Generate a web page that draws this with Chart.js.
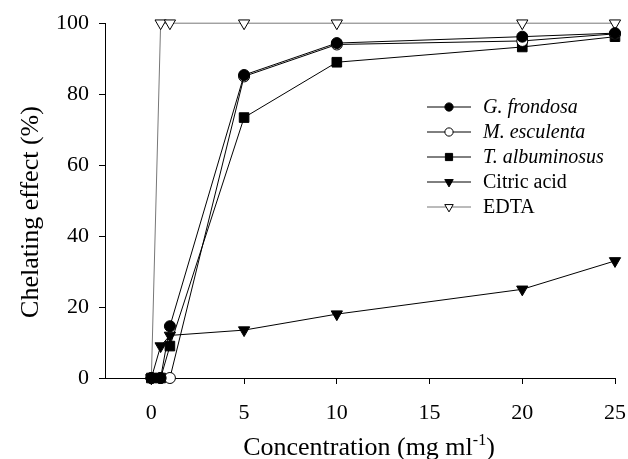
<!DOCTYPE html>
<html>
<head>
<meta charset="utf-8">
<script src="https://cdn.jsdelivr.net/npm/chart.js@4/dist/chart.umd.min.js"></script>
<style>
  html, body { margin: 0; padding: 0; background: #fff; }
  #wrap { width: 628px; height: 459px; }
</style>
</head>
<body>
<div id="wrap"><canvas id="myChart" width="628" height="459"></canvas></div>
<script>
// concentrations (mg/ml)
const concentrations = [0, 0.5, 1, 5, 10, 20, 25];
const seriesNames = ["G. frondosa", "M. esculenta", "T. albuminosus", "Citric acid", "EDTA"];
const frondosa = [0, 0, 14.6, 85.4, 94.4, 96.2, 97.2];
const esculenta = [0, 0, 0, 85.0, 94.0, 95.0, 97.0];
const albuminosus = [0, 0, 9, 73.4, 89.0, 93.3, 96.2];
const citric = [0, 9, 12, 13.5, 18.0, 25.0, 33.0];
const edta = [0, 100, 100, 100, 100, 100, 100];
const xTicks = [0, 5, 10, 15, 20, 25];
const yTicks = [0, 20, 40, 60, 80, 100];

const serif = "'Liberation Serif', 'Times New Roman', serif";

function pts(vals) {
  return concentrations.map((c, i) => ({ x: c, y: vals[i] }));
}

const styles = [
  { pointStyle: "circle", bg: "#000", radius: 5.5, rot: 0, line: "#000", italic: true },
  { pointStyle: "circle", bg: "#fff", radius: 5.5, rot: 0, line: "#000", italic: true },
  { pointStyle: "rect", bg: "#000", radius: 6.8, rot: 0, line: "#000", italic: true },
  { pointStyle: "triangle", bg: "#000", radius: 6.5, rot: 180, line: "#000", italic: false },
  { pointStyle: "triangle", bg: "#fff", radius: 6.5, rot: 180, line: "#777", italic: false },
];

const allSeries = [frondosa, esculenta, albuminosus, citric, edta];

const datasets = allSeries.map((vals, i) => ({
  label: seriesNames[i],
  data: pts(vals),
  borderColor: styles[i].line,
  borderWidth: 1,
  pointStyle: styles[i].pointStyle,
  pointRotation: styles[i].rot,
  pointRadius: styles[i].radius,
  pointBackgroundColor: styles[i].bg,
  pointBorderColor: "#000",
  pointBorderWidth: 1,
  tension: 0,
  clip: false,
}));

// legend inside the plot + axis titles
const legendPlugin = {
  id: "innerLegend",
  afterDraw(chart) {
    const ctx = chart.ctx;
    ctx.save();
    chart.data.datasets.forEach((ds, i) => {
      const y = 107 + i * 25;
      ctx.strokeStyle = ds.borderColor;
      ctx.lineWidth = 1;
      ctx.beginPath();
      ctx.moveTo(427, y);
      ctx.lineTo(471, y);
      ctx.stroke();
      ctx.fillStyle = ds.pointBackgroundColor;
      ctx.strokeStyle = "#000";
      Chart.helpers.drawPoint(ctx, {
        pointStyle: ds.pointStyle,
        rotation: ds.pointRotation,
        radius: ds.pointRadius * 0.75,
        borderWidth: 1,
      }, 449, y);
      ctx.fillStyle = "#000";
      ctx.font = (styles[i].italic ? "italic " : "") + "20px " + serif;
      ctx.textBaseline = "middle";
      ctx.textAlign = "left";
      ctx.fillText(ds.label, 483, y + 1);
    });

    // x title with superscript
    const main1 = "Concentration (mg ml";
    const sup = "-1";
    const main2 = ")";
    ctx.font = "26px " + serif;
    const w1 = ctx.measureText(main1).width;
    const w3 = ctx.measureText(main2).width;
    ctx.font = "16px " + serif;
    const w2 = ctx.measureText(sup).width;
    let x = 369 - (w1 + w2 + w3) / 2;
    const base = 455;
    ctx.textBaseline = "alphabetic";
    ctx.font = "26px " + serif;
    ctx.fillText(main1, x, base);
    x += w1;
    ctx.font = "16px " + serif;
    ctx.fillText(sup, x, base - 10);
    x += w2;
    ctx.font = "26px " + serif;
    ctx.fillText(main2, x, base);

    // y title
    ctx.translate(31, 212);
    ctx.rotate(-Math.PI / 2);
    ctx.font = "26px " + serif;
    ctx.textAlign = "center";
    ctx.textBaseline = "middle";
    ctx.fillText("Chelating effect (%)", 0, 0);
    ctx.restore();
  },
};

const ctx = document.getElementById("myChart").getContext("2d");
const chart = new Chart(ctx, {
  type: "line",
  data: { datasets },
  plugins: [legendPlugin],
  options: {
    responsive: false,
    animation: false,
    layout: { padding: { top: 22, right: 0, left: 0, bottom: 0 } },
    plugins: { legend: { display: false }, tooltip: { enabled: false } },
    scales: {
      x: {
        type: "linear",
        min: -2.5,
        max: 25,
        afterFit: (s) => { s.height = 81; s.paddingRight = 13; s.paddingLeft = 0; },
        afterBuildTicks: (s) => { s.ticks = xTicks.map((v) => ({ value: v })); },
        border: { color: "#000", width: 1 },
        grid: { drawOnChartArea: false, tickLength: 6, color: "#000" },
        ticks: { color: "#000", font: { family: serif, size: 22 }, padding: 16, maxRotation: 0 },
      },
      y: {
        min: 0,
        max: 100,
        afterFit: (s) => { s.width = 105; },
        afterBuildTicks: (s) => { s.ticks = yTicks.map((v) => ({ value: v })); },
        border: { color: "#000", width: 1 },
        grid: { drawOnChartArea: false, tickLength: 6, color: "#000" },
        ticks: { color: "#000", font: { family: serif, size: 22 }, padding: 10 },
      },
    },
  },
});
</script>
</body>
</html>
